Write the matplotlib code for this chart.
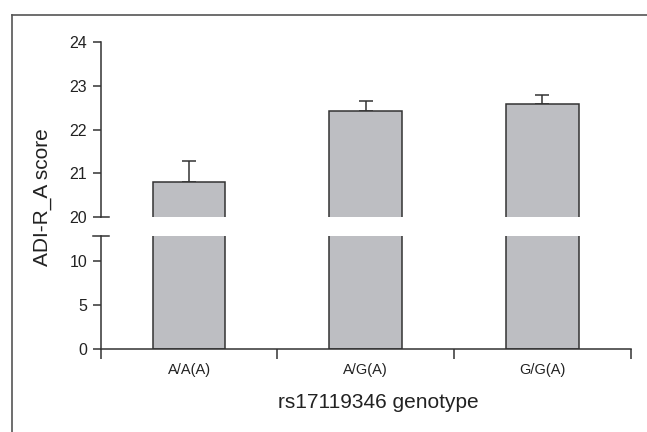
import matplotlib
matplotlib.use("Agg")
import matplotlib.pyplot as plt
from matplotlib.lines import Line2D
from matplotlib.transforms import blended_transform_factory

plt.rcParams["font.family"] = ["Liberation Sans", "DejaVu Sans"]

# data
genotypes = ["A/A(A)", "A/G(A)", "G/G(A)"]
scores = [20.79, 22.42, 22.58]
errors = [0.49, 0.24, 0.20]

W, H = 647, 432
fig = plt.figure(figsize=(W / 100, H / 100), dpi=100)


def px_box(x0, y0, x1, y1):
    # pixel box (top-left origin) -> figure fraction rect
    return [x0 / W, 1 - y1 / H, (x1 - x0) / W, (y1 - y0) / H]


ax_top = fig.add_axes(px_box(100.7, 42.3, 630.7, 216.7))
ax_bot = fig.add_axes(px_box(100.7, 236.0, 630.7, 349.0))

bar_kw = dict(width=0.41, color="#bdbec2", edgecolor="#333333", linewidth=1.1, zorder=2)
xs = list(range(len(genotypes)))
edge = "#333333"

ax_top.bar(xs, scores, **bar_kw)
ax_bot.bar(xs, scores, **bar_kw)
ax_top.errorbar(xs, scores, yerr=[[0] * len(errors), errors], fmt="none",
                ecolor=edge, elinewidth=1.1, capsize=4.7, capthick=1.1, zorder=1)

ax_top.set_ylim(20, 24)
ax_bot.set_ylim(0, 12.8)
for ax in (ax_top, ax_bot):
    ax.set_xlim(-0.5, 2.5)
    ax.spines["top"].set_visible(False)
    ax.spines["right"].set_visible(False)
    ax.spines["left"].set_color(edge)
    ax.spines["bottom"].set_color(edge)
    ax.spines["left"].set_linewidth(1.1)
    ax.spines["bottom"].set_linewidth(1.1)
    ax.tick_params(axis="y", direction="out", length=5.8, width=1.1, color=edge,
                   labelsize=11.5, pad=4.0, labelcolor="#222222")

ax_top.set_yticks([20, 21, 22, 23, 24])
ax_top.spines["bottom"].set_visible(False)
ax_top.tick_params(axis="x", bottom=False, labelbottom=False)

ax_bot.set_yticks([0, 5, 10])
ax_bot.set_xticks([-0.5, 0.5, 1.5, 2.5])
ax_bot.set_xticklabels([])
ax_bot.set_xticks(xs, minor=True)
ax_bot.set_xticklabels(genotypes, minor=True)
ax_bot.tick_params(axis="x", which="major", direction="out", length=7.2, width=1.1, color=edge)
ax_bot.tick_params(axis="x", which="minor", length=0, labelsize=10.5, pad=10, labelcolor="#222222")

# break caps on the y axis
cap = 8 / 530
tr_top = blended_transform_factory(ax_top.transAxes, ax_top.transData)
ax_top.add_line(Line2D([0, cap], [20, 20], transform=tr_top, color=edge, lw=1.1, clip_on=False))
tr_bot = blended_transform_factory(ax_bot.transAxes, ax_bot.transData)
ax_bot.add_line(Line2D([-cap, cap], [12.8, 12.8], transform=tr_bot, color=edge, lw=1.1, clip_on=False))

fig.text(42.5 / W, 1 - 196.7 / H, "ADI-R_A score", rotation=90, ha="center", va="center",
         fontsize=15, color="#222222")
fig.text(378.5 / W, 1 - 403 / H, "rs17119346 genotype", ha="center", va="center",
         fontsize=15, color="#222222")

# panel frame (left and top edges)
fig.add_artist(Line2D([12.3 / W, 12.3 / W], [0, 1 - 14.5 / H], transform=fig.transFigure,
                      color="#555555", lw=1.2))
fig.add_artist(Line2D([12.3 / W, 1], [1 - 14.5 / H, 1 - 14.5 / H], transform=fig.transFigure,
                      color="#555555", lw=1.2))

fig.savefig("out.png", dpi=100)
